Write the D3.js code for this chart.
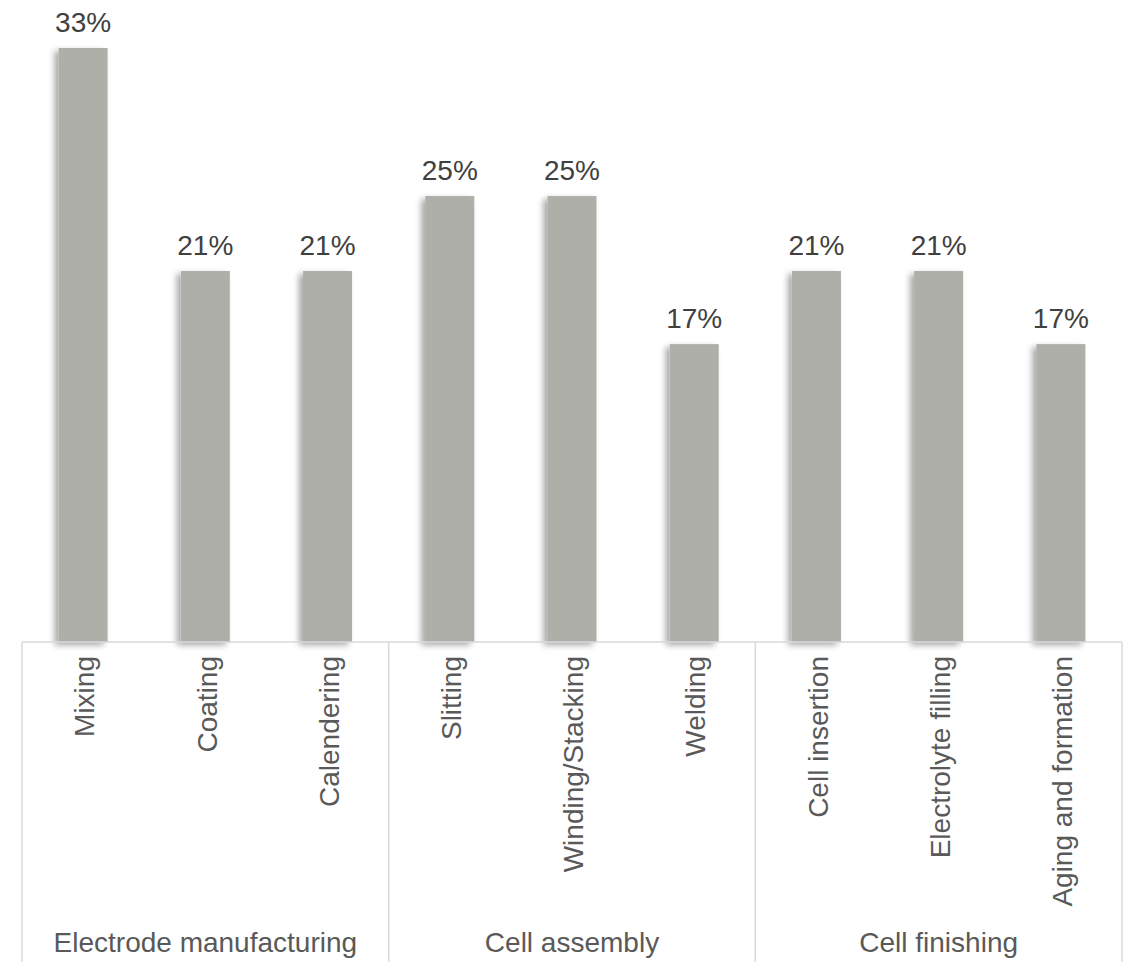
<!DOCTYPE html>
<html>
<head>
<meta charset="utf-8">
<script src="https://cdn.jsdelivr.net/npm/d3@7"></script>
<style>
    body { margin: 0; background: #fff; }
    text { font-family: "Liberation Sans", Arial, sans-serif; }
</style>
</head>
<body>
<script>
// data
const steps = ["Mixing", "Coating", "Calendering", "Slitting", "Winding/Stacking",
    "Welding", "Cell insertion", "Electrolyte filling", "Aging and formation"];
const shares = [0.333, 0.208, 0.208, 0.25, 0.25, 0.167, 0.208, 0.208, 0.167];
const groups = ["Electrode manufacturing", "Cell assembly", "Cell finishing"];
const groupOfStep = [0, 0, 0, 1, 1, 1, 2, 2, 2];

const width = 1130;
const height = 962;
const left = 22;
const right = 1122;
const axisY = 642;

const svg = d3.select("body")
    .append("svg")
    .attr("width", width)
    .attr("height", height);

// bar shadow
const defs = svg.append("defs");
defs.append("filter")
    .attr("id", "shadow")
    .attr("x", "-30%").attr("y", "-10%")
    .attr("width", "160%").attr("height", "120%")
    .append("feDropShadow")
    .attr("dx", -4)
    .attr("dy", 3)
    .attr("stdDeviation", 3)
    .attr("flood-color", "#000")
    .attr("flood-opacity", 0.35);

// scales
const x = d3.scaleBand()
    .domain(steps)
    .range([left, right])
    .paddingInner(0.6)
    .paddingOuter(0.3);

const xOuter = d3.scaleBand()
    .domain(steps)
    .range([left, right]);

const xGroup = d3.scaleBand()
    .domain(groups)
    .range([left, right]);

const y = d3.scaleLinear()
    .domain([0, 0.35])
    .range([axisY, axisY - 594 * 0.35 / 0.333]);

// bars
svg.selectAll(".bar")
    .data(steps)
    .enter()
    .append("rect")
    .attr("class", "bar")
    .attr("x", d => xOuter(d) + (xOuter.bandwidth() - 49) / 2)
    .attr("width", 49)
    .attr("y", (d, i) => y(shares[i]))
    .attr("height", (d, i) => axisY - y(shares[i]))
    .style("fill", "#afafaa")
    .attr("filter", "url(#shadow)");

// value labels
svg.selectAll(".val")
    .data(steps)
    .enter()
    .append("text")
    .attr("class", "val")
    .attr("x", d => xOuter(d) + xOuter.bandwidth() / 2)
    .attr("y", (d, i) => y(shares[i]) - 16)
    .attr("text-anchor", "middle")
    .style("font-size", "28px")
    .style("fill", "#404040")
    .text((d, i) => d3.format(".0%")(shares[i]));

// axis lines
const lineColor = "#d9d9d9";
svg.append("line")
    .attr("x1", left).attr("x2", right)
    .attr("y1", axisY).attr("y2", axisY)
    .style("stroke", lineColor)
    .style("stroke-width", 1.5);

const dividers = groups.map(g => xGroup(g)).concat([right]);
svg.selectAll(".div")
    .data(dividers)
    .enter()
    .append("line")
    .attr("class", "div")
    .attr("x1", d => d).attr("x2", d => d)
    .attr("y1", axisY).attr("y2", height)
    .style("stroke", lineColor)
    .style("stroke-width", 1.5);

// step labels (rotated)
svg.selectAll(".step")
    .data(steps)
    .enter()
    .append("text")
    .attr("class", "step")
    .attr("transform", d => "translate(" + (xOuter(d) + xOuter.bandwidth() / 2) + "," + (axisY + 14) + ") rotate(-90)")
    .attr("text-anchor", "end")
    .attr("dy", "0.4em")
    .style("font-size", "28px")
    .style("fill", "#595959")
    .text(d => d);

// group labels
svg.selectAll(".group")
    .data(groups)
    .enter()
    .append("text")
    .attr("class", "group")
    .attr("x", d => xGroup(d) + xGroup.bandwidth() / 2)
    .attr("y", 952)
    .attr("text-anchor", "middle")
    .style("font-size", "28px")
    .style("fill", "#595959")
    .text(d => d);
</script>
</body>
</html>
